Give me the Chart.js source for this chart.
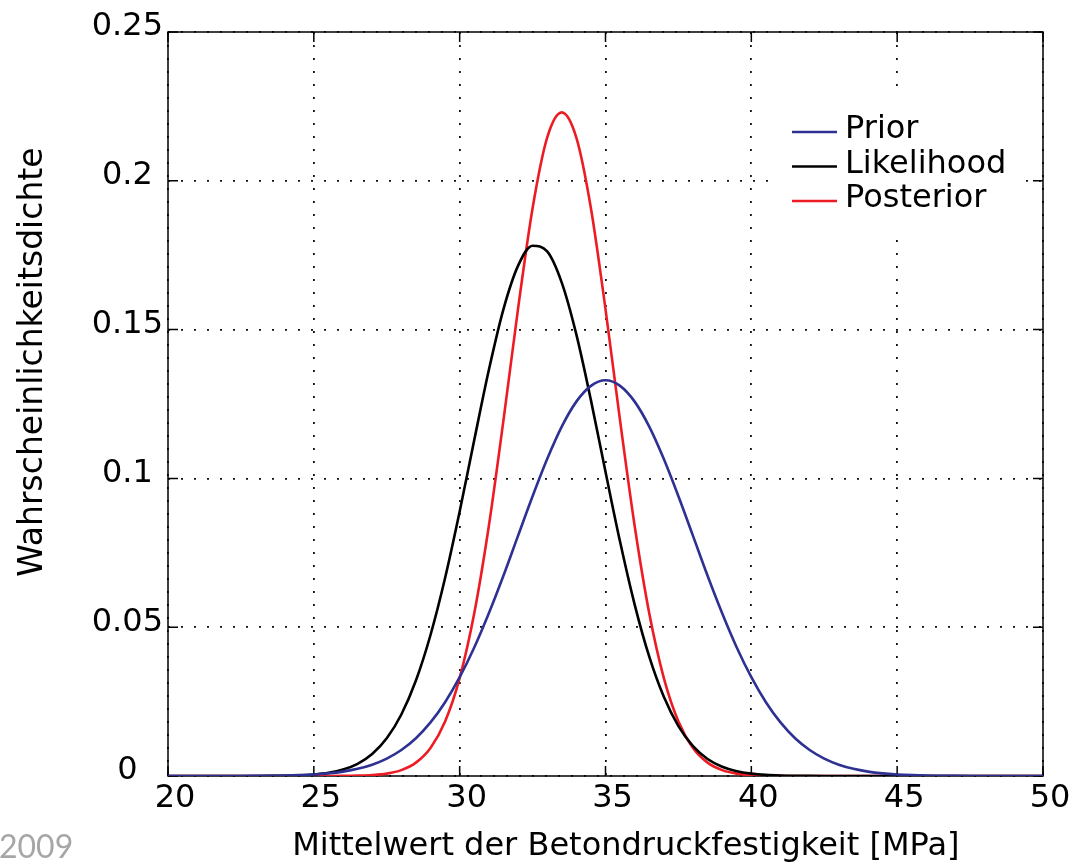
<!DOCTYPE html>
<html>
<head>
<meta charset="utf-8">
<script src="https://cdn.jsdelivr.net/npm/chart.js@4.4.1/dist/chart.umd.min.js"></script>
<style>
html,body{margin:0;padding:0;background:#fff;}
#wrap{position:relative;width:1072px;height:866px;overflow:hidden;background:#fff;}
#c{position:absolute;left:0;top:0;}
#mark{position:absolute;left:-1px;top:830px;font-family:Lato,'Open Sans',sans-serif;font-size:32px;line-height:32px;color:#a6a6a6;}
</style>
</head>
<body>
<div id="wrap">
<canvas id="c" width="1072" height="866"></canvas>
<div id="mark">2009</div>
</div>
<script>
// ---- data ----
const xValues = [20,20.5,21,21.5,22,22.5,23,23.5,24,24.5,25,25.5,26,26.5,27,27.5,28,28.5,29,29.5,30,30.5,31,31.5,32,32.5,33,33.5,34,34.5,35,35.5,36,36.5,37,37.5,38,38.5,39,39.5,40,40.5,41,41.5,42,42.5,43,43.5,44,44.5,45,45.5,46,46.5,47,47.5,48,48.5,49,49.5,50];

const prior = [0,0,0,0,0.00001,0.00002,0.00004,0.00009,0.00016,0.00029,0.00051,0.00088,0.00148,0.0024,0.0038,0.00584,0.00874,0.0127,0.018,0.0248,0.0332,0.0432,0.0547,0.0673,0.0807,0.094,0.1065,0.1174,0.1258,0.1311,0.133,0.1311,0.1258,0.1174,0.1065,0.094,0.0807,0.0673,0.0547,0.0432,0.0332,0.0248,0.018,0.0127,0.00874,0.00584,0.0038,0.0024,0.00148,0.00088,0.00051,0.00029,0.00016,0.00009,0.00004,0.00002,0.00001,0,0,0,0];

const likelihood = [0,0,0,0,0,0.00001,0.00002,0.00004,0.0001,0.00023,0.00052,0.00108,0.00216,0.00409,0.00738,0.01266,0.02066,0.03208,0.04738,0.06651,0.08885,0.1129,0.1364,0.1568,0.1714,0.1782,0.1763,0.1658,0.1484,0.1263,0.1022,0.0787,0.0576,0.0401,0.0266,0.01676,0.01004,0.00573,0.00311,0.0016,0.00079,0.00037,0.00016,0.00007,0.00003,0.00001,0,0,0,0,0,0,0,0,0,0,0,0,0,0,0];

const posterior = [0,0,0,0,0,0,0,0,0,0,0,0.00001,0.00003,0.00011,0.0003,0.0008,0.00198,0.00449,0.00942,0.01831,0.0329,0.05466,0.084,0.1194,0.1569,0.1908,0.2145,0.223,0.2145,0.1908,0.1569,0.1194,0.084,0.05466,0.0329,0.01831,0.00942,0.00449,0.00198,0.0008,0.0003,0.00011,0.00003,0.00001,0,0,0,0,0,0,0,0,0,0,0,0,0,0,0,0,0];

const seriesNames = ['Prior', 'Likelihood', 'Posterior'];
const xTicks = [20, 25, 30, 35, 40, 45, 50];
const xTickLabels = ['20', '25', '30', '35', '40', '45', '50'];
const yTickLabels = ['0', '0.05', '0.1', '0.15', '0.2', '0.25'];
const xTitle = 'Mittelwert der Betondruckfestigkeit [MPa]';
const yTitle = 'Wahrscheinlichkeitsdichte';

// ---- styling ----
const COLORS = ['#2e3192', '#000000', '#ed1c24'];
const FONT = 'DejaVu Sans';

function toPoints(ys) { return xValues.map((x, i) => ({x: x, y: ys[i]})); }

const series = [prior, likelihood, posterior];
const datasets = series.map((ys, k) => ({
  label: seriesNames[k],
  data: toPoints(ys),
  borderColor: COLORS[k],
  backgroundColor: COLORS[k],
  borderWidth: 2.6,
  pointRadius: 0,
  fill: false,
  cubicInterpolationMode: 'monotone'
}));

const framePlugin = {
  id: 'frame',
  beforeDatasetsDraw(chart) {
    const ctx = chart.ctx;
    const {left, right, top, bottom} = chart.chartArea;
    ctx.save();
    ctx.strokeStyle = '#000';
    ctx.lineWidth = 1.5;
    ctx.setLineDash([]);
    ctx.strokeRect(left, top, right - left, bottom - top);
    const L = 10;
    ctx.beginPath();
    chart.scales.x.ticks.forEach(t => {
      const px = chart.scales.x.getPixelForValue(t.value);
      ctx.moveTo(px, bottom); ctx.lineTo(px, bottom - L);
      ctx.moveTo(px, top); ctx.lineTo(px, top + L);
    });
    chart.scales.y.ticks.forEach(t => {
      const py = chart.scales.y.getPixelForValue(t.value);
      ctx.moveTo(left, py); ctx.lineTo(left + L, py);
      ctx.moveTo(right, py); ctx.lineTo(right - L, py);
    });
    ctx.stroke();
    ctx.restore();
  }
};

const legendPlugin = {
  id: 'insideLegend',
  afterDatasetsDraw(chart) {
    const ctx = chart.ctx;
    const ca = chart.chartArea;
    const boxX = ca.right - 275, boxY = ca.top + 65;
    ctx.save();
    ctx.fillStyle = '#fff';
    ctx.fillRect(boxX, boxY, 255, 132);
    ctx.font = '32px "' + FONT + '"';
    ctx.textBaseline = 'middle';
    ctx.textAlign = 'left';
    chart.data.datasets.forEach((ds, i) => {
      const y = ca.top + 98 + i * 34.5;
      ctx.strokeStyle = ds.borderColor;
      ctx.lineWidth = 2.6;
      ctx.beginPath();
      ctx.moveTo(ca.right - 251, y + 2);
      ctx.lineTo(ca.right - 206, y + 2);
      ctx.stroke();
      ctx.fillStyle = '#000';
      ctx.fillText(ds.label, ca.right - 198, y);
    });
    ctx.restore();
  }
};

new Chart(document.getElementById('c'), {
  type: 'line',
  data: { datasets: datasets },
  options: {
    responsive: false,
    animation: false,
    devicePixelRatio: 1,
    layout: { padding: { left: 0, right: 29, top: 32, bottom: 0 } },
    plugins: { legend: { display: false }, tooltip: { enabled: false } },
    scales: {
      x: {
        type: 'linear',
        min: 20, max: 50,
        afterFit: (s) => { s.height = 90; },
        afterBuildTicks: (s) => { s.ticks = xTicks.map(v => ({value: v})); },
        ticks: {
          autoSkip: false, maxRotation: 0, padding: 3, labelOffset: 7,
          color: '#000', font: { family: FONT, size: 32 },
          callback: (v) => { const i = xTicks.indexOf(v); return i >= 0 ? xTickLabels[i] : ''; }
        },
        grid: { color: '#111', lineWidth: 1.8, drawTicks: false },
        border: { display: false, dash: [2, 11] },
        title: { display: true, text: '    ' + xTitle, color: '#000', font: { family: FONT, size: 32 }, padding: { top: 0, bottom: 0 } }
      },
      y: {
        type: 'linear',
        min: 0, max: 0.25,
        afterFit: (s) => { s.width = 168; },
        ticks: {
          stepSize: 0.05, padding: 5, crossAlign: 'center', labelOffset: -5,
          color: '#000', font: { family: FONT, size: 32 },
          callback: (v) => yTickLabels[Math.round(v * 20)]
        },
        grid: { color: '#111', lineWidth: 1.8, drawTicks: false },
        border: { display: false, dash: [2, 11] },
        title: { display: true, text: '        ' + yTitle, color: '#000', font: { family: FONT, size: 33 }, padding: { top: 14, bottom: 0 } }
      }
    }
  },
  plugins: [framePlugin, legendPlugin]
});
</script>
</body>
</html>
